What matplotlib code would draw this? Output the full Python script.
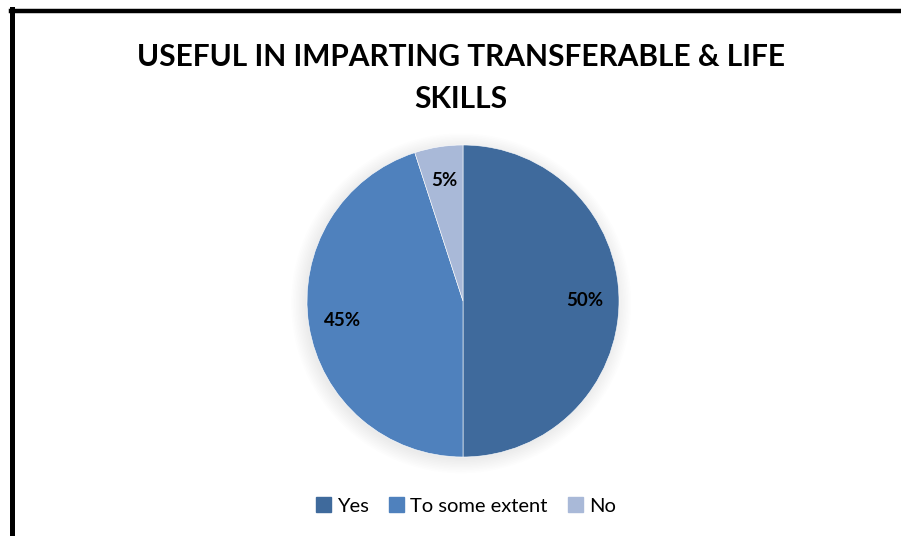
import matplotlib
matplotlib.use("Agg")
import matplotlib.pyplot as plt
from matplotlib.patches import Circle
from matplotlib.lines import Line2D

categories = ["Yes", "To some extent", "No"]
values = [50, 45, 5]
colors = ["#3F6A9C", "#4F81BD", "#A9B9D8"]
title = "USEFUL IN IMPARTING TRANSFERABLE & LIFE\nSKILLS"

plt.rcParams['font.family'] = ['Lato', 'DejaVu Sans']

fig = plt.figure(figsize=(9.01, 5.36), dpi=100)
fig.patch.set_facecolor("white")

# frame lines (top and left)
fig.add_artist(Line2D([10.5/901, 1.0], [1 - 10.5/536, 1 - 10.5/536], color="black", lw=3.2, transform=fig.transFigure))
fig.add_artist(Line2D([12/901, 12/901], [0, 1 - 9/536], color="black", lw=3.6, transform=fig.transFigure))

fig.text(461/901, 1 - 78/536, title, ha="center", va="center", fontsize=21.5, fontweight="bold", linespacing=1.6)

r_px = 156
cx, cy = 463, 301
ax = fig.add_axes([(cx - r_px) / 901, 1 - (cy + r_px) / 536, 2 * r_px / 901, 2 * r_px / 536])
ax.set_xlim(-1, 1)
ax.set_ylim(-1, 1)
ax.set_aspect("equal")
ax.axis("off")

# soft shadow
for i in range(10):
    c = Circle((-0.012, -0.015), 1.0 + 0.01 * i, color="black", alpha=0.009, zorder=0, lw=0)
    c.set_clip_on(False)
    ax.add_patch(c)

wedges, texts, autotexts = ax.pie(values, colors=colors, startangle=90, counterclock=False,
                                  autopct=lambda p: f"{p:.0f}%", pctdistance=0.78, radius=1.0,
                                  wedgeprops=dict(linewidth=0.4, edgecolor="white"),
                                  textprops=dict(fontsize=13.5, fontweight="bold", color="black"))
for w in wedges:
    w.set_zorder(2)
for t in autotexts:
    t.set_zorder(3)
ax.set_xlim(-1, 1)
ax.set_ylim(-1, 1)

handles = [plt.Rectangle((0, 0), 1, 1, color=c) for c in colors]
fig.legend(handles, categories, loc="center", bbox_to_anchor=(466/901, 1 - 506/536), ncol=3,
           frameon=False, fontsize=14.5, handlelength=0.75, handleheight=0.75, handletextpad=0.3,
           columnspacing=1.0)

fig.savefig("out.png", dpi=100, facecolor="white")
